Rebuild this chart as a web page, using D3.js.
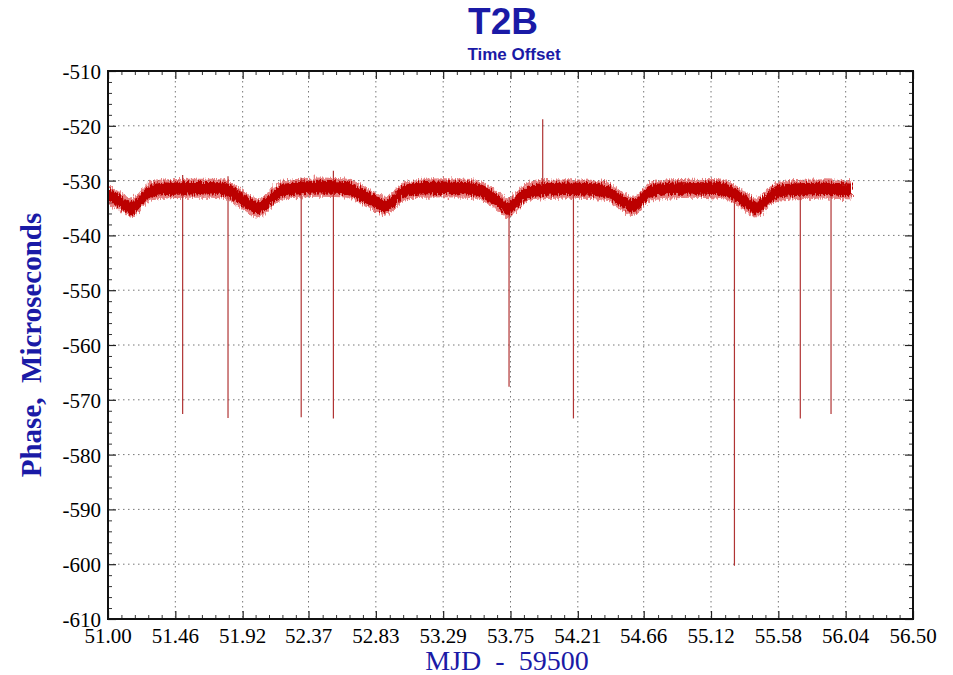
<!DOCTYPE html>
<html>
<head>
<meta charset="utf-8">
<script src="https://cdn.jsdelivr.net/npm/d3@7"></script>
<style>
  body { margin: 0; background: #fff; }
  svg text.tick-label { font-family: "Liberation Serif", "Times New Roman", serif; font-size: 21px; fill: #000; }
  .axis-title { fill: #1a1aa6; }
</style>
</head>
<body>
<div class="chart"></div>
<script>
// tick values and labels
var xTicks = [51.00, 51.46, 51.92, 52.37, 52.83, 53.29, 53.75, 54.21, 54.66, 55.12, 55.58, 56.04, 56.50];
var yTicks = [-510, -520, -530, -540, -550, -560, -570, -580, -590, -600, -610];

// centre of the noisy band (MJD - 59500, microseconds)
var bandMjd = [51.00, 51.06, 51.12, 51.16, 51.20, 51.25, 51.31, 51.40, 51.55, 51.70, 51.80, 51.87, 51.95, 52.02,
  52.08, 52.13, 52.18, 52.30, 52.45, 52.60, 52.68, 52.76, 52.84, 52.89, 52.94, 52.98, 53.03, 53.15, 53.30,
  53.45, 53.54, 53.62, 53.69, 53.73, 53.78, 53.83, 53.89, 54.00, 54.15, 54.30, 54.41, 54.48, 54.54, 54.58,
  54.63, 54.67, 54.71, 54.85, 55.00, 55.15, 55.25, 55.32, 55.38, 55.42, 55.47, 55.52, 55.59, 55.75, 55.90,
  56.00, 56.08];
var bandPhase = [-532.6, -533.5, -534.5, -535.0, -534.3, -532.8, -531.8, -531.5, -531.4, -531.4, -531.6, -532.6, -534.0, -535.0,
  -534.2, -532.8, -531.9, -531.4, -531.2, -531.3, -531.8, -533.0, -534.1, -534.7, -534.0, -532.8, -531.9, -531.4, -531.3,
  -531.4, -531.8, -533.0, -534.3, -535.1, -534.2, -532.8, -531.9, -531.6, -531.5, -531.6, -532.0, -533.2, -534.2, -534.7,
  -533.9, -532.7, -531.9, -531.5, -531.4, -531.5, -532.0, -533.2, -534.3, -535.0, -534.2, -532.9, -531.9, -531.6, -531.5,
  -531.6, -531.7];
// spread of the band around its centre
var bandCore = 1.15;
var bandFringe = 1.75;

// outlier spikes: time, lowest and highest value
var spikeMjd = [51.51, 51.82, 52.32, 52.54, 53.74, 53.97, 54.18, 55.28, 55.73, 55.94];
var spikeLow = [-572.6, -573.3, -573.2, -573.4, -567.6, -531.0, -573.4, -600.3, -573.4, -572.6];
var spikeHigh = [-529.0, -529.2, -529.5, -528.2, -533.0, -518.8, -531.0, -532.0, -531.0, -531.0];

var serif = "Liberation Serif, Times New Roman, serif";
var svgWidth = 953;
var svgHeight = 675;
var margin = { top: 71, right: 40, bottom: 56, left: 108 };
var width = svgWidth - margin.left - margin.right;
var height = svgHeight - margin.top - margin.bottom;

var svg = d3.select(".chart")
  .append("svg")
  .attr("width", svgWidth)
  .attr("height", svgHeight);

// fuzzy edge for the noisy band
var defs = svg.append("defs");
var filt = defs.append("filter").attr("id", "fuzz")
  .attr("x", "-2%").attr("y", "-40%").attr("width", "104%").attr("height", "180%");
filt.append("feTurbulence").attr("type", "fractalNoise").attr("baseFrequency", "0.9 0.15")
  .attr("numOctaves", 2).attr("seed", 3).attr("result", "noise");
filt.append("feDisplacementMap").attr("in", "SourceGraphic").attr("in2", "noise")
  .attr("scale", 8).attr("xChannelSelector", "R").attr("yChannelSelector", "G");

var chartGroup = svg.append("g")
  .attr("transform", `translate(${margin.left}, ${margin.top})`);

var x = d3.scaleLinear().domain([51, 56.5]).range([0, width]);
var y = d3.scaleLinear().domain([-610, -510]).range([height, 0]);

// grid
chartGroup.append("g").selectAll("line")
  .data(xTicks.slice(1, -1))
  .enter().append("line")
  .attr("x1", d => x(d)).attr("x2", d => x(d))
  .attr("y1", 0).attr("y2", height)
  .attr("stroke", "#777").attr("stroke-width", 1).attr("stroke-dasharray", "1.5,3.5");

chartGroup.append("g").selectAll("line")
  .data(yTicks.slice(1, -1))
  .enter().append("line")
  .attr("y1", d => y(d)).attr("y2", d => y(d))
  .attr("x1", 0).attr("x2", width)
  .attr("stroke", "#777").attr("stroke-width", 1).attr("stroke-dasharray", "1.5,3.5");

// minor + major ticks, inward on all four sides
var bottomAxis = d3.axisBottom(x).tickValues(xTicks).tickSize(-8).tickFormat("");
var topAxis = d3.axisTop(x).tickValues(xTicks).tickSize(-8).tickFormat("");
var leftAxis = d3.axisLeft(y).tickValues(yTicks).tickSize(-8).tickFormat("");
var rightAxis = d3.axisRight(y).tickValues(yTicks).tickSize(-8).tickFormat("");

var xMinor = [];
for (var i = 0; i < xTicks.length - 1; i++) {
  for (var k = 1; k < 5; k++) xMinor.push(51 + (i * 5 + k) * 5.5 / 60);
}
var yMinor = d3.range(-608, -510, 2).filter(v => v % 10 !== 0);

var axes = [
  [bottomAxis, `translate(0, ${height})`, d3.axisBottom(x).tickValues(xMinor)],
  [topAxis, "translate(0,0)", d3.axisTop(x).tickValues(xMinor)],
  [leftAxis, "translate(0,0)", d3.axisLeft(y).tickValues(yMinor)],
  [rightAxis, `translate(${width},0)`, d3.axisRight(y).tickValues(yMinor)]
];
axes.forEach(function(a) {
  var g = chartGroup.append("g").attr("transform", a[1]).call(a[0]);
  g.select(".domain").remove();
  g.selectAll("line").attr("stroke", "#222").attr("stroke-width", 1.2);
  var m = chartGroup.append("g").attr("transform", a[1]).call(a[2].tickSize(-4).tickFormat(""));
  m.select(".domain").remove();
  m.selectAll("line").attr("stroke", "#333").attr("stroke-width", 1);
});

// band
var band = bandMjd.map((d, i) => ({ t: d, v: bandPhase[i] }));
var areaFor = function(s) {
  return d3.area()
    .x(d => x(d.t))
    .y0(d => y(d.v - s))
    .y1(d => y(d.v + s))
    .curve(d3.curveMonotoneX);
};

// spikes
var spikes = spikeMjd.map((d, i) => ({ t: d, lo: spikeLow[i], hi: spikeHigh[i] }));
chartGroup.append("g").selectAll("line")
  .data(spikes)
  .enter().append("line")
  .attr("x1", d => x(d.t)).attr("x2", d => x(d.t))
  .attr("y1", d => y(d.lo)).attr("y2", d => y(d.hi))
  .attr("stroke", "#b03434").attr("stroke-width", 1.2);

chartGroup.append("path")
  .datum(band)
  .attr("d", areaFor(bandFringe))
  .attr("fill", "#d83030")
  .attr("opacity", 0.6)
  .attr("filter", "url(#fuzz)");

chartGroup.append("path")
  .datum(band)
  .attr("d", areaFor(bandCore))
  .attr("fill", "#bc0000")
  .attr("filter", "url(#fuzz)");

// frame
chartGroup.append("rect")
  .attr("width", width).attr("height", height)
  .attr("fill", "none").attr("stroke", "#111").attr("stroke-width", 2);

// tick labels
chartGroup.append("g").selectAll("text")
  .data(xTicks)
  .enter().append("text")
  .attr("class", "tick-label")
  .attr("x", d => x(d))
  .attr("y", height + 24)
  .attr("text-anchor", "middle")
  .text(d => d.toFixed(2));

chartGroup.append("g").selectAll("text")
  .data(yTicks)
  .enter().append("text")
  .attr("class", "tick-label")
  .attr("x", -7)
  .attr("y", d => y(d) + 8)
  .attr("text-anchor", "end")
  .text(d => d);

// titles
svg.append("text")
  .attr("x", 503)
  .attr("y", 34)
  .attr("text-anchor", "middle")
  .attr("font-family", "Liberation Sans, Arial, sans-serif")
  .attr("font-weight", "bold")
  .attr("font-size", 37)
  .attr("fill", "#1a1aa6")
  .text("T2B");

svg.append("text")
  .attr("x", 514)
  .attr("y", 60)
  .attr("text-anchor", "middle")
  .attr("font-family", "Liberation Sans, Arial, sans-serif")
  .attr("font-weight", "bold")
  .attr("font-size", 17)
  .attr("fill", "#1a1aa6")
  .text("Time Offset");

svg.append("text")
  .attr("class", "axis-title")
  .attr("font-family", serif)
  .attr("x", 507)
  .attr("y", 670)
  .attr("text-anchor", "middle")
  .attr("font-size", 28)
  .attr("xml:space", "preserve")
  .text("MJD  -  59500");

svg.append("text")
  .attr("class", "axis-title")
  .attr("font-family", serif)
  .attr("transform", "translate(41, 345) rotate(-90)")
  .attr("text-anchor", "middle")
  .attr("font-weight", "bold")
  .attr("font-size", 29)
  .attr("xml:space", "preserve")
  .text("Phase,  Microseconds");
</script>
</body>
</html>
